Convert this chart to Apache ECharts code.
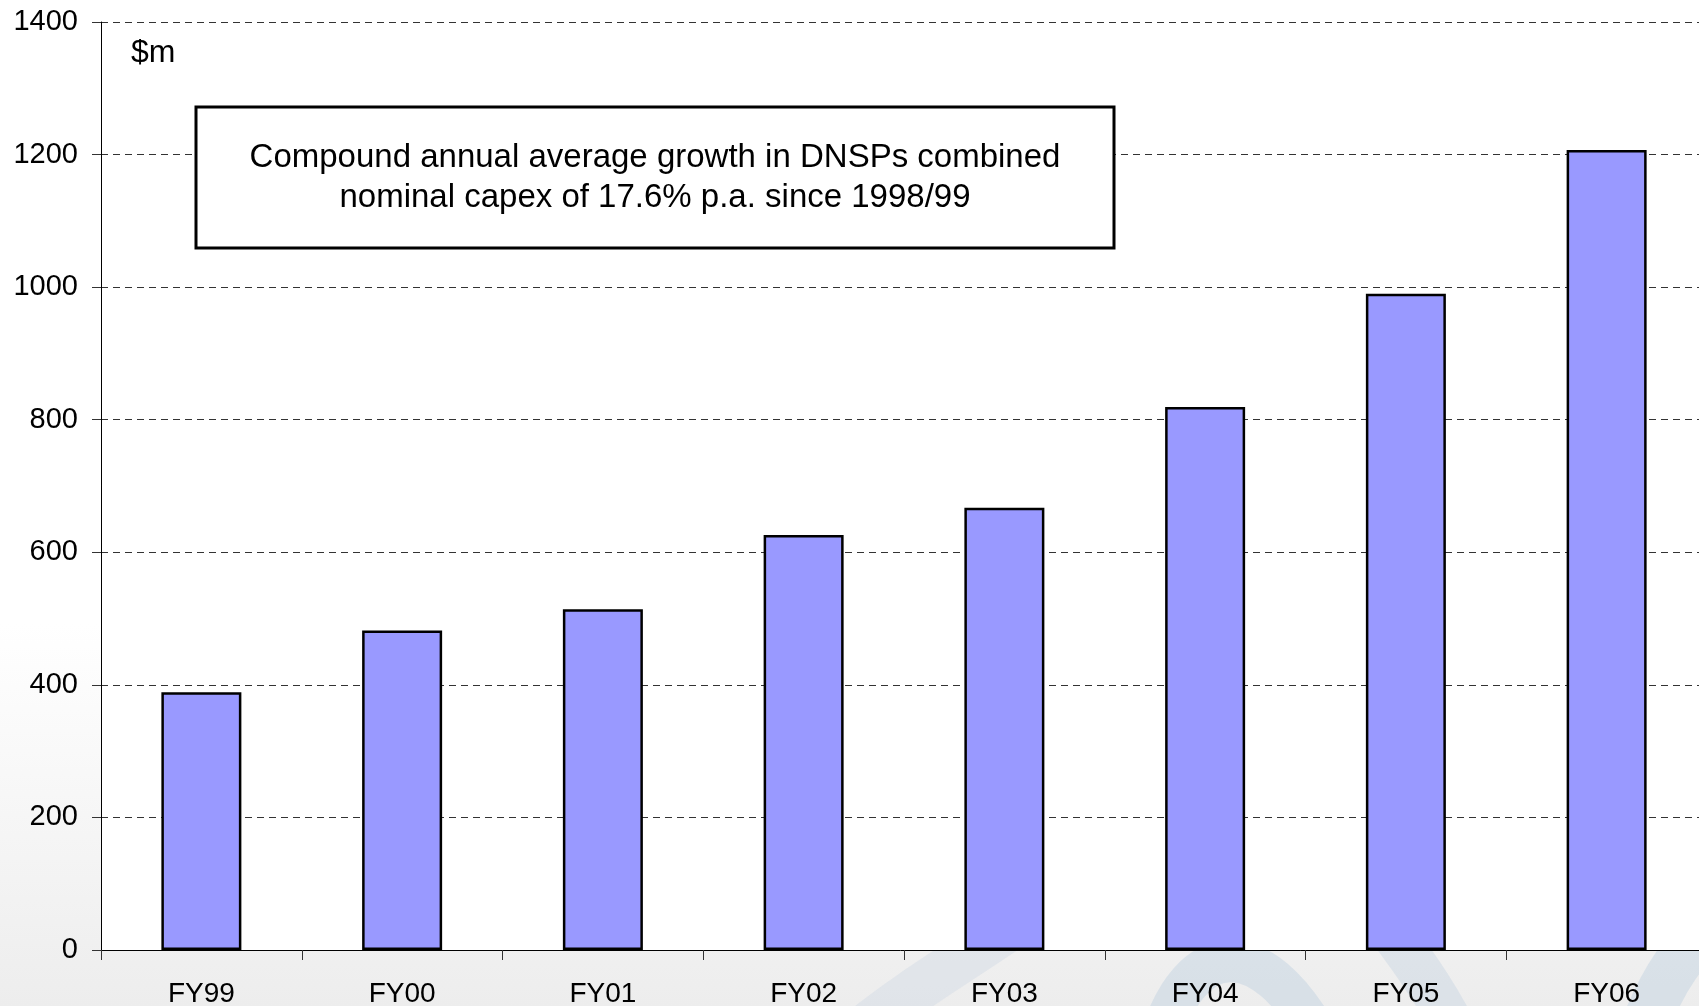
<!DOCTYPE html>
<html>
<head>
<meta charset="utf-8">
<title>DNSP combined nominal capex</title>
<script src="https://cdn.jsdelivr.net/npm/echarts@6/dist/echarts.min.js"></script>
<style>
  html, body { margin: 0; padding: 0; background: #ffffff; }
  #chart { width: 1699px; height: 1006px; }
</style>
</head>
<body>
<div id="chart"></div>
<script>
// Financial years and combined DNSP capex ($m)
const categories = ['FY99', 'FY00', 'FY01', 'FY02', 'FY03', 'FY04', 'FY05', 'FY06'];
const capex = [389, 482, 514, 626, 667, 819, 990, 1207];
const unitLabel = '$m';
const noteLines = [
  'Compound annual average growth in DNSPs combined',
  'nominal capex of 17.6% p.a. since 1998/99'
];

const FONT = '"Liberation Sans", Arial, Helvetica, sans-serif';

const chart = echarts.init(document.getElementById('chart'), null, { renderer: 'canvas' });

// Faint logo swooshes in the slide background (sit behind the white plot area)
const swoosh = (pts, width, color) => ({
  type: 'bezierCurve',
  z: -10,
  silent: true,
  shape: { x1: pts[0], y1: pts[1], cpx1: pts[2], cpy1: pts[3], cpx2: pts[4], cpy2: pts[5], x2: pts[6], y2: pts[7] },
  style: { stroke: color, lineWidth: width, fill: null, lineCap: 'butt' }
});

chart.setOption({
  animation: false,
  backgroundColor: {
    type: 'linear', x: 0, y: 0, x2: 0, y2: 1,
    colorStops: [
      { offset: 0, color: '#ffffff' },
      { offset: 0.62, color: '#ffffff' },
      { offset: 1, color: '#ededed' }
    ]
  },
  grid: {
    left: 101,
    top: 22,
    width: 1606,
    height: 928,
    show: true,
    backgroundColor: '#ffffff',
    borderWidth: 0,
    outerBoundsMode: 'none'
  },
  xAxis: {
    type: 'category',
    data: categories,
    boundaryGap: true,
    axisLine: { show: true, lineStyle: { color: '#000000', width: 1 } },
    axisTick: { show: true, length: 10, inside: false, lineStyle: { color: '#333333', width: 1 } },
    axisLabel: {
      color: '#000000',
      fontFamily: FONT,
      fontSize: 28,
      margin: 30
    },
    splitLine: { show: false }
  },
  yAxis: {
    type: 'value',
    min: 0,
    max: 1400,
    interval: 200,
    axisLine: { show: true, lineStyle: { color: '#000000', width: 1 } },
    axisTick: { show: true, length: 9, inside: false, lineStyle: { color: '#333333', width: 1 } },
    axisLabel: {
      color: '#000000',
      fontFamily: FONT,
      fontSize: 29,
      margin: 23,
      formatter: (v) => String(v)
    },
    splitLine: {
      show: true,
      lineStyle: { color: '#333333', width: 1, type: [7, 5] }
    }
  },
  series: [{
    type: 'bar',
    data: capex,
    barWidth: 80,
    itemStyle: {
      color: '#9999ff',
      borderColor: '#000000',
      borderWidth: 2.5
    },
    emphasis: { disabled: true }
  }],
  graphic: [
    swoosh([862, 1030, 910, 990, 980, 950, 1050, 900], 46, 'rgba(200, 212, 226, 0.35)'),
    swoosh([1160, 1040, 1190, 940, 1260, 930, 1320, 1040], 42, 'rgba(160, 190, 215, 0.28)'),
    swoosh([1390, 930, 1420, 970, 1440, 1000, 1460, 1040], 44, 'rgba(175, 198, 218, 0.28)'),
    swoosh([1640, 1040, 1660, 980, 1690, 940, 1720, 920], 48, 'rgba(160, 190, 215, 0.28)'),
    {
      type: 'text',
      z: 100,
      left: 131,
      top: 37,
      style: {
        text: unitLabel,
        font: '32px ' + FONT,
        fill: '#000000'
      }
    },
    {
      type: 'rect',
      z: 100,
      shape: { x: 196, y: 107, width: 918, height: 141 },
      style: { fill: '#ffffff', stroke: '#000000', lineWidth: 3 }
    },
    {
      type: 'text',
      z: 101,
      x: 655,
      y: 178,
      style: {
        text: noteLines.join('\n'),
        font: '33px ' + FONT,
        fill: '#000000',
        align: 'center',
        verticalAlign: 'middle',
        lineHeight: 40
      }
    }
  ]
});
</script>
</body>
</html>
